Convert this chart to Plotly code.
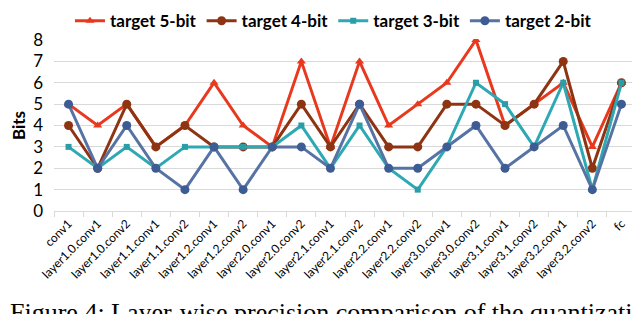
import plotly.graph_objects as go

categories = ["conv1", "layer1.0.conv1", "layer1.0.conv2", "layer1.1.conv1", "layer1.1.conv2",
              "layer1.2.conv1", "layer1.2.conv2", "layer2.0.conv1", "layer2.0.conv2", "layer2.1.conv1",
              "layer2.1.conv2", "layer2.2.conv1", "layer2.2.conv2", "layer3.0.conv1", "layer3.0.conv2",
              "layer3.1.conv1", "layer3.1.conv2", "layer3.2.conv1", "layer3.2.conv2", "fc"]
bits5 = [5, 4, 5, 3, 4, 6, 4, 3, 7, 3, 7, 4, 5, 6, 8, 4, 5, 6, 3, 6]
bits4 = [4, 2, 5, 3, 4, 3, 3, 3, 5, 3, 5, 3, 3, 5, 5, 4, 5, 7, 2, 6]
bits3 = [3, 2, 3, 2, 3, 3, 3, 3, 4, 2, 4, 2, 1, 3, 6, 5, 3, 6, 1, 6]
bits2 = [5, 2, 4, 2, 1, 3, 1, 3, 3, 2, 5, 2, 2, 3, 4, 2, 3, 4, 1, 5]
y_ticks = [0, 1, 2, 3, 4, 5, 6, 7, 8]

series = [
    ("target 5-bit", bits5, "#E8381E", "#E8381E", "triangle-up", 8),
    ("target 4-bit", bits4, "#8E3412", "#8E3412", "circle", 9),
    ("target 3-bit", bits3, "#2EA9B3", "#2A9DA8", "square", 6),
    ("target 2-bit", bits2, "#5673A3", "#3D5C93", "circle", 9),
]

fig = go.Figure()
for name, vals, lc, mc, sym, sz in series:
    fig.add_trace(go.Scatter(
        x=categories, y=vals, name=name, mode="lines+markers",
        line=dict(color=lc, width=3),
        marker=dict(color=mc, symbol=sym, size=sz),
        cliponaxis=False,
    ))

fig.update_layout(
    width=632, height=306,
    margin=dict(l=46, r=4, t=32, b=103, autoexpand=False),
    paper_bgcolor="white", plot_bgcolor="white",
    font=dict(family="Lato, Liberation Sans, sans-serif", color="black"),
    showlegend=True,
    legend=dict(orientation="h", x=0.515, xanchor="center", xref="container",
                y=1.215, yanchor="top", yref="paper",
                font=dict(size=17, family="Lato", weight="bold"),
                itemwidth=30, tracegroupgap=0),
    annotations=[dict(
        text="Figure 4: Layer-wise precision comparison of the quantization",
        xref="paper", yref="paper", x=-46 / 582, y=-0.497, xanchor="left", yanchor="top",
        showarrow=False, font=dict(family="Liberation Serif, serif", size=26, color="black"),
    )],
)
fig.update_xaxes(
    type="category", range=[-0.5, 19.5], tickangle=-45,
    tickfont=dict(size=12), showgrid=False,
    showline=True, linecolor="#d9d9d9", linewidth=1,
    ticks="outside", tickson="boundaries", ticklen=5, tickcolor="#d9d9d9",
)
fig.update_yaxes(
    range=[0, 8], tickvals=y_ticks, tickfont=dict(size=17), ticklabelstandoff=10,
    showgrid=True, gridcolor="#d9d9d9", gridwidth=1, zeroline=False,
    title=dict(text="<b>Bits</b>", font=dict(size=17), standoff=13),
)
fig.write_html("out.html")
